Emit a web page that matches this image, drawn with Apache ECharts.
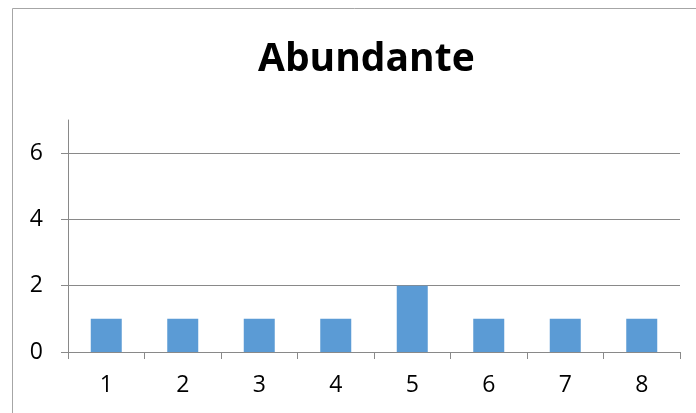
<!DOCTYPE html>
<html>
<head>
<meta charset="utf-8">
<script src="https://cdn.jsdelivr.net/npm/echarts@6/dist/echarts.min.js"></script>
<style>
  html, body { margin: 0; padding: 0; background: #fff; }
</style>
</head>
<body>
<div id="myChart" style="width: 696px; height: 413px"></div>
<script>
const categories = ['1', '2', '3', '4', '5', '6', '7', '8'];
const values = [1, 1, 1, 1, 2, 1, 1, 1];
const yTicks = [0, 2, 4, 6];
const titleText = 'Abundante';

const myChart = echarts.init(document.getElementById('myChart'));
const gray = '#898989';

myChart.setOption({
  animation: false,
  title: {
    text: titleText,
    left: 253,
    top: 35,
    textStyle: { fontFamily: 'Open Sans', fontWeight: 'bold', fontSize: 39, color: '#000' }
  },
  grid: { left: 68, right: 16, top: 120, bottom: 61 },
  graphic: [{
    type: 'rect',
    shape: { x: 12.5, y: 8.5, width: 700, height: 420 },
    style: { fill: 'none', stroke: '#a6a6a6', lineWidth: 1 }
  }],
  xAxis: {
    type: 'category',
    data: categories,
    axisLine: { lineStyle: { color: gray } },
    axisTick: { show: true, length: 7, alignWithLabel: false, lineStyle: { color: gray } },
    axisLabel: { color: '#000', fontFamily: 'Open Sans', fontSize: 23, margin: 22 }
  },
  yAxis: {
    type: 'value',
    min: 0,
    max: 7,
    interval: 2,
    axisLine: { show: true, lineStyle: { color: gray } },
    axisTick: { show: true, length: 7, lineStyle: { color: gray } },
    axisLabel: {
      color: '#000', fontFamily: 'Open Sans', fontSize: 23, margin: 25,
      showMaxLabel: false,
      formatter: (v) => (yTicks.indexOf(v) >= 0 ? String(v) : '')
    },
    splitLine: { show: true, showMaxLine: false, lineStyle: { color: gray } }
  },
  series: [{
    type: 'bar',
    data: values,
    barWidth: 31,
    itemStyle: { color: '#5b9bd5' }
  }]
});
</script>
</body>
</html>
